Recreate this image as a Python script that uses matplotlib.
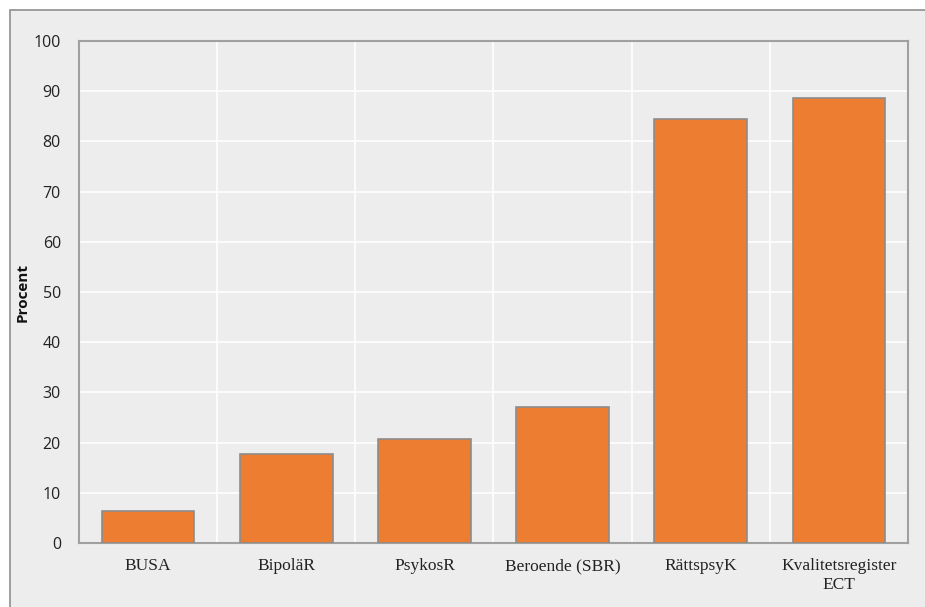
import matplotlib
matplotlib.use("Agg")
import matplotlib.pyplot as plt
from matplotlib.patches import Rectangle
import numpy as np

categories = ["BUSA", "BipoläR", "PsykosR", "Beroende (SBR)", "RättspsyK", "Kvalitetsregister\nECT"]
values = [6.4, 17.7, 20.7, 27.1, 84.5, 88.6]
yticks = [0, 10, 20, 30, 40, 50, 60, 70, 80, 90, 100]

W, H = 925, 607
fig = plt.figure(figsize=(W/100, H/100), dpi=100, facecolor="white")
bg = "#EDEDED"
fig.patches.append(Rectangle((10/W, -0.02), 1.05, 1 - 10/H + 0.02, transform=fig.transFigure,
                             facecolor=bg, edgecolor="#8F8F8F", linewidth=1.2, zorder=-10))

ax = fig.add_axes([79/W, 1 - 543/H, (908-79)/W, (543-41)/H])
ax.set_facecolor(bg)
x = np.arange(len(categories))
ax.bar(x, values, width=0.67, color="#ED7D31", edgecolor="#8C8C8C", linewidth=1.2, zorder=3)

ax.set_xlim(-0.5, len(categories) - 0.5)
ax.set_ylim(0, 100)
ax.set_yticks(yticks)
ax.set_yticklabels([str(t) for t in yticks], fontfamily="Open Sans", fontsize=11.5, color="#222222")
ax.set_xticks(x)
ax.set_xticklabels(categories, fontfamily="Liberation Serif", fontsize=12.5, color="#222222")
ax.set_xticks(x[:-1] + 0.5, minor=True)
ax.tick_params(axis="both", which="both", length=0)
ax.tick_params(axis="y", pad=13)
ax.tick_params(axis="x", pad=11)
ax.grid(axis="y", which="major", color="white", linewidth=1.2, zorder=0)
ax.grid(axis="x", which="minor", color="white", linewidth=1.2, zorder=0)
ax.set_axisbelow(True)
for s in ax.spines.values():
    s.set_color("#A0A0A0")
    s.set_linewidth(1.5)

fig.text(23/W, 1 - 292/H, "Procent", rotation=90, fontfamily="Open Sans", fontweight="bold",
         fontsize=11, ha="center", va="center", color="#111111")

fig.savefig("out.png", dpi=100, facecolor="white")
